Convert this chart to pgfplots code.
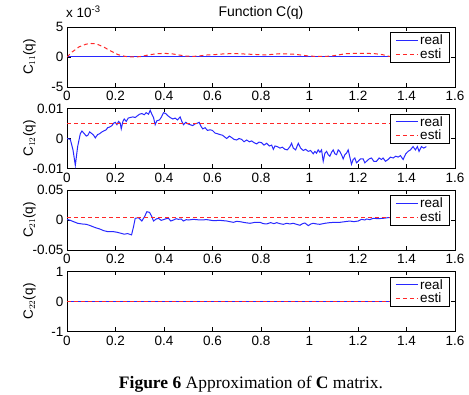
\documentclass[border=0pt]{standalone}
\usepackage{fontspec}
\setmainfont{Liberation Sans}
\newfontfamily\capfont{Liberation Serif}
\usepackage{pgfplots}
\pgfplotsset{compat=1.18}

\definecolor{realblue}{RGB}{40,40,255}
\definecolor{estired}{RGB}{255,40,40}
\newcommand\lblfont{\fontsize{13.5}{15}\selectfont}

% one panel of the C(q) figure
\pgfplotsset{
  panel/.style={
    scale only axis, width=388pt, height=60pt,
    xmin=0, xmax=1.6,
    xtick={0,0.2,0.4,0.6,0.8,1,1.2,1.4,1.6},
    xticklabels={0,0.2,0.4,0.6,0.8,1,1.2,1.4,1.6},
    scaled y ticks=false, scaled x ticks=false,
    tick align=inside, major tick length=4pt,
    tick style={black, line width=0.5pt},
    axis line style={black, line width=0.6pt},
    ticklabel style={font=\lblfont},
    xticklabel style={yshift=-1pt},
    ylabel style={at={(axis description cs:-0.097,0.5)}, anchor=center, font=\lblfont},
    legend style={at={(rel axis cs:0.987,0.915)}, anchor=north east,
      font=\lblfont, line width=0.8pt,
      inner xsep=5pt, inner ysep=0.5pt, row sep=-1pt,
      nodes={inner sep=1.8pt}},
    legend cell align=left,
    legend image code/.code={\draw[##1] (0pt,0pt) -- (22pt,0pt);},
  },
  realline/.style={color=realblue, line width=1pt},
  estiline/.style={color=estired, line width=1pt, dash pattern=on 4pt off 3pt},
}

% C11 estimate, in units of 1e-3
\pgfplotstableread{
q v
0 0
0.02 0.8
0.05 1.7
0.08 2.15
0.10 2.25
0.12 2.2
0.15 1.7
0.18 1.0
0.21 0.4
0.24 0.1
0.27 0.0
0.30 0.05
0.33 0.3
0.37 0.55
0.40 0.6
0.43 0.55
0.46 0.35
0.49 0.15
0.52 0.1
0.55 0.2
0.58 0.35
0.61 0.4
0.64 0.5
0.67 0.55
0.70 0.55
0.73 0.5
0.76 0.45
0.79 0.4
0.82 0.35
0.85 0.45
0.88 0.55
0.91 0.5
0.94 0.45
0.97 0.3
1.00 0.15
1.03 0.1
1.06 0.1
1.09 0.15
1.12 0.35
1.15 0.55
1.18 0.6
1.21 0.6
1.24 0.6
1.27 0.55
1.30 0.4
1.33 0.1
1.36 0.0
1.40 0.1
1.44 0.2
1.48 0.2
}\cOneOneEsti

% C12 measured
\pgfplotstableread{
q v
0 0
0.0137 -0.0003
0.0247 -0.0038
0.0343 -0.0089
0.0439 -0.0027
0.0549 0.0016
0.0617 0.0025
0.0714 0.0016
0.0796 0.0008
0.0864 0.0011
0.0933 0.0022
0.1029 0.0016
0.1098 0.0011
0.1166 0.0002
0.1262 0.0013
0.1345 0.0016
0.1441 0.0022
0.1509 0.0025
0.1619 0.0029
0.1674 0.0036
0.1756 0.0038
0.1852 0.0043
0.1921 0.0051
0.1990 0.0054
0.2058 0.0046
0.2127 0.0057
0.2196 0.0051
0.2237 0.0032
0.2305 0.0057
0.2360 0.0065
0.2443 0.0057
0.2525 0.0068
0.2607 0.0070
0.2717 0.0072
0.2813 0.0070
0.2909 0.0076
0.2991 0.0081
0.3087 0.0083
0.3184 0.0079
0.3266 0.0086
0.3362 0.0081
0.3431 0.0094
0.3499 0.0081
0.3568 0.0070
0.3636 0.0046
0.3705 0.0059
0.3815 0.0062
0.3897 0.0072
0.3979 0.0086
0.4075 0.0083
0.4158 0.0076
0.4254 0.0070
0.4364 0.0065
0.4460 0.0068
0.4556 0.0062
0.4666 0.0072
0.4734 0.0057
0.4803 0.0046
0.4899 0.0054
0.4981 0.0049
0.5077 0.0046
0.5187 0.0043
0.5283 0.0049
0.5380 0.0051
0.5448 0.0054
0.5530 0.0040
0.5599 0.0032
0.5695 0.0036
0.5791 0.0027
0.5901 0.0029
0.5997 0.0027
0.6106 0.0018
0.6202 0.0016
0.6312 0.0013
0.6408 0.0011
0.6504 0.0005
0.6587 0
0.6696 0.0008
0.6792 0.0003
0.6888 -0.0003
0.6998 -0.0005
0.7094 0
0.7204 -0.0003
0.7300 -0.0011
0.7410 -0.0005
0.7520 -0.0011
0.7616 -0.0008
0.7712 -0.0014
0.7822 -0.0018
0.7918 -0.0012
0.8027 -0.0014
0.8124 -0.0022
0.8233 -0.0016
0.8343 -0.0025
0.8439 -0.0022
0.8508 -0.0036
0.8576 -0.0025
0.8672 -0.0027
0.8782 -0.0032
0.8878 -0.0029
0.8988 -0.0036
0.9084 -0.0038
0.9194 -0.0027
0.9262 -0.0016
0.9331 -0.0032
0.9427 -0.0038
0.9537 -0.0016
0.9633 -0.0032
0.9743 -0.0040
0.9839 -0.0036
0.9949 -0.0043
1.0045 -0.0040
1.0154 -0.0051
1.0223 -0.0043
1.0292 -0.0049
1.0360 -0.0038
1.0429 -0.0046
1.0497 -0.0038
1.0566 -0.0076
1.0635 -0.0049
1.0703 -0.0043
1.0772 -0.0054
1.0840 -0.0059
1.0909 -0.0046
1.0978 -0.0038
1.1046 -0.0051
1.1115 -0.0054
1.1184 -0.0038
1.1252 -0.0043
1.1321 -0.0054
1.1389 -0.0068
1.1458 -0.0054
1.1527 -0.0049
1.1595 -0.0038
1.1664 -0.0062
1.1732 -0.0086
1.1801 -0.0070
1.1870 -0.0065
1.1938 -0.0081
1.2007 -0.0076
1.2103 -0.0068
1.2213 -0.0068
1.2281 -0.0081
1.2350 -0.0076
1.2460 -0.0068
1.2556 -0.0065
1.2652 -0.0076
1.2762 -0.0076
1.2871 -0.0065
1.2967 -0.0070
1.3036 -0.0065
1.3132 -0.0076
1.3242 -0.0070
1.3338 -0.0062
1.3448 -0.0065
1.3557 -0.0059
1.3654 -0.0062
1.3750 -0.0057
1.3860 -0.0070
1.3970 -0.0051
1.4065 -0.0043
1.4161 -0.0038
1.4271 -0.0027
1.4367 -0.0038
1.4449 -0.0027
1.4518 -0.0043
1.4614 -0.0027
1.4710 -0.0032
1.4820 -0.0027
}\cOneTwoReal

% C21 measured
\pgfplotstableread{
q v
0 0.0011
0.0137 -0.0006
0.0274 -0.0028
0.0439 -0.0055
0.0617 -0.0066
0.0796 -0.0072
0.0961 -0.0094
0.1166 -0.0127
0.1345 -0.0149
0.1509 -0.0177
0.1674 -0.0193
0.1894 -0.0193
0.2058 -0.0204
0.2223 -0.0221
0.2360 -0.0237
0.2497 -0.0226
0.2662 -0.0248
0.2744 -0.0110
0.2813 0.0028
0.2950 0.0039
0.3087 -0.0017
0.3197 0.0055
0.3293 0.0138
0.3403 0.0127
0.3499 0.0055
0.3568 -0.0017
0.3678 0.0017
0.3774 0.0028
0.3883 -0.0006
0.3979 0.0006
0.4089 0.0022
0.4185 0.0028
0.4281 -0.0017
0.4391 0
0.4501 0.0022
0.4597 0.0011
0.4707 0.0017
0.4803 -0.0017
0.4912 0.0006
0.5009 0
0.5214 0.0011
0.5489 0
0.5763 0.0006
0.6038 -0.0011
0.6312 -0.0006
0.6587 -0.0017
0.6861 -0.0039
0.6998 -0.0022
0.7136 -0.0028
0.7341 -0.0044
0.7547 -0.0055
0.7753 -0.0039
0.7959 -0.0039
0.8096 -0.0061
0.8233 -0.0066
0.8398 -0.0044
0.8535 -0.0061
0.8645 -0.0044
0.8782 -0.0061
0.8919 -0.0072
0.9057 -0.0055
0.9194 -0.0066
0.9331 -0.0055
0.9468 -0.0072
0.9605 -0.0088
0.9715 -0.0061
0.9811 -0.0050
0.9949 -0.0094
1.0058 -0.0066
1.0154 -0.0055
1.0292 -0.0066
1.0429 -0.0072
1.0635 -0.0055
1.0840 -0.0044
1.1046 -0.0039
1.1252 -0.0039
1.1458 -0.0028
1.1664 -0.0017
1.1829 -0.0028
1.2007 -0.0017
1.2144 0.0011
1.2281 0
1.2350 0.0017
1.2487 0.0006
1.2624 0.0028
1.2830 0.0022
1.3036 0.0028
1.3242 0.0039
1.3585 0.0033
1.4000 0.0040
1.4400 0.0033
1.4820 0.0040
}\cTwoOneReal

% straight reference lines
\pgfplotstableread{
q v
0 0
1.48 0
}\zeroLine
\pgfplotstableread{
q v
0 0.005
1.48 0.005
}\cOneTwoEsti
\pgfplotstableread{
q v
0 0.004
1.48 0.004
}\cTwoOneEsti

\begin{document}
\begin{tikzpicture}
\path[use as bounding box] (0,0) rectangle (469pt,-395pt);

% C11
\begin{axis}[panel, at={(67pt,-27pt)}, anchor=north west,
  ymin=-5, ymax=5, ytick={-5,0,5}, yticklabels={-5,0,5},
  ylabel={C$_{11}$(q)}]
  \addplot[realline] table[x=q, y=v] {\zeroLine};
  \addlegendentry{real}
  \addplot[estiline] table[x=q, y=v] {\cOneOneEsti};
  \addlegendentry{esti}
\end{axis}
\node[anchor=base west, inner sep=0pt, font=\lblfont] at (66pt,-18pt) {x 10\textsuperscript{-3}};
\node[anchor=base, inner sep=0pt, font=\fontsize{14}{16}\selectfont] at (261pt,-17pt) {Function C(q)};

% C12
\begin{axis}[panel, at={(67pt,-108.5pt)}, anchor=north west,
  ymin=-0.01, ymax=0.01, ytick={-0.01,0,0.01}, yticklabels={-0.01,0,0.01},
  ylabel={C$_{12}$(q)}]
  \addplot[realline] table[x=q, y=v] {\cOneTwoReal};
  \addlegendentry{real}
  \addplot[estiline] table[x=q, y=v] {\cOneTwoEsti};
  \addlegendentry{esti}
\end{axis}

% C21
\begin{axis}[panel, at={(67pt,-190pt)}, anchor=north west,
  ymin=-0.05, ymax=0.05, ytick={-0.05,0,0.05}, yticklabels={-0.05,0,0.05},
  ylabel={C$_{21}$(q)}]
  \addplot[realline] table[x=q, y=v] {\cTwoOneReal};
  \addlegendentry{real}
  \addplot[estiline] table[x=q, y=v] {\cTwoOneEsti};
  \addlegendentry{esti}
\end{axis}

% C22
\begin{axis}[panel, at={(67pt,-271.5pt)}, anchor=north west,
  ymin=-1, ymax=1, ytick={-1,0,1}, yticklabels={-1,0,1},
  ylabel={C$_{22}$(q)}]
  \addplot[realline] table[x=q, y=v] {\zeroLine};
  \addlegendentry{real}
  \addplot[estiline] table[x=q, y=v] {\zeroLine};
  \addlegendentry{esti}
\end{axis}

\node[anchor=base, inner sep=0pt, font=\capfont\fontsize{17.5}{20}\selectfont] at (251pt,-389pt)
  {\textbf{Figure 6} Approximation of \textbf{C} matrix.};
\end{tikzpicture}
\end{document}
